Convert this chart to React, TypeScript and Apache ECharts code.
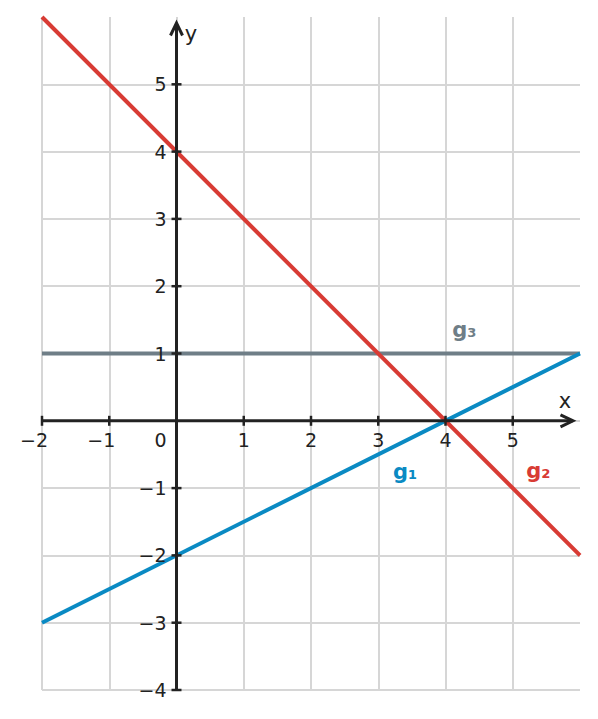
import React, { useEffect, useRef } from "react";
import * as echarts from "echarts";

// Axis range and ticks
const X_MIN = -2;
const X_MAX = 6;
const Y_MIN = -4;
const Y_MAX = 6;
const xTickValues = [-2, -1, 1, 2, 3, 4, 5];
const yTickValues = [-4, -3, -2, -1, 1, 2, 3, 4, 5];

// Line endpoints (x, y)
const g1Points = [[-2, -3], [6, 1]];
const g2Points = [[-2, 6], [6, -2]];
const g3Points = [[-2, 1], [6, 1]];

// Line names and colours
const lineNames = ["g₁", "g₂", "g₃"];
const lineColors = ["#0a8ac3", "#d83b34", "#6f7e87"];
// anchor of each line name (data coords)
const labelAnchors = [[3.4, -0.76], [5.38, -0.74], [4.28, 1.35]];

const FONT = "DejaVu Sans";
const AXIS_COLOR = "#222222";

const fmt = (v: number) => (v < 0 ? "−" + Math.abs(v) : String(v));

function txt(text: string, x: number, y: number, align: string, vAlign: string, fill: string, size: number, weight: string = "normal") {
  return {
    type: "text",
    x,
    y,
    style: {
      text,
      fill,
      fontSize: size,
      fontFamily: FONT,
      fontWeight: weight,
      align,
      verticalAlign: vAlign,
      textAlign: align,
      textVerticalAlign: vAlign,
    },
  };
}

export default function App() {
  const ref = useRef<HTMLDivElement>(null);
  useEffect(() => {
    if (!ref.current) return;
    const chart = echarts.init(ref.current, undefined, { renderer: "svg" });
    const renderAxes = (params: any, api: any) => {
      const o = api.coord([0, 0]);
      const xs = api.coord([X_MIN, 0]);
      const xe = api.coord([X_MAX, 0]);
      const ys = api.coord([0, Y_MIN]);
      const ye = api.coord([0, Y_MAX]);
      const tipX = xe[0] - 7;
      const tipY = ye[1] + 6;
      const ax = { stroke: AXIS_COLOR, lineWidth: 3 };
      const children: any[] = [];
      children.push({ type: "line", shape: { x1: xs[0], y1: o[1], x2: tipX, y2: o[1] }, style: ax });
      children.push({ type: "line", shape: { x1: o[0], y1: ys[1], x2: o[0], y2: tipY }, style: ax });
      children.push({
        type: "polyline",
        shape: { points: [[tipX - 12.5, o[1] - 6], [tipX, o[1]], [tipX - 12.5, o[1] + 6]] },
        style: { stroke: AXIS_COLOR, lineWidth: 3, fill: null },
      });
      children.push({
        type: "polyline",
        shape: { points: [[o[0] - 6, tipY + 12.5], [o[0], tipY], [o[0] + 6, tipY + 12.5]] },
        style: { stroke: AXIS_COLOR, lineWidth: 3, fill: null },
      });
      xTickValues.forEach((v) => {
        const p = api.coord([v, 0]);
        children.push({ type: "line", shape: { x1: p[0], y1: p[1] - 5, x2: p[0], y2: p[1] + 5 }, style: { stroke: AXIS_COLOR, lineWidth: 2.5 } });
        children.push(txt(fmt(v), p[0] + 6, p[1] + 19, "right", "middle", AXIS_COLOR, 19));
      });
      yTickValues.forEach((v) => {
        const p = api.coord([0, v]);
        children.push({ type: "line", shape: { x1: p[0] - 5, y1: p[1], x2: p[0] + 5, y2: p[1] }, style: { stroke: AXIS_COLOR, lineWidth: 2.5 } });
        children.push(txt(fmt(v), p[0] - 10, p[1], "right", "middle", AXIS_COLOR, 19));
      });
      children.push(txt("0", o[0] - 10, o[1] + 19, "right", "middle", AXIS_COLOR, 19));
      children.push(txt("x", xe[0] - 15, o[1] - 20, "center", "middle", AXIS_COLOR, 21));
      children.push(txt("y", o[0] + 14.5, ye[1] + 17, "center", "middle", AXIS_COLOR, 21));
      lineNames.forEach((n, i) => {
        const p = api.coord(labelAnchors[i]);
        children.push(txt(n, p[0], p[1], "center", "middle", lineColors[i], 21, "bold"));
      });
      return { type: "group", children };
    };
    const mkLine = (name: string, pts: number[][], color: string) => ({
      type: "line",
      name,
      data: pts,
      symbol: "none",
      silent: true,
      z: 2,
      lineStyle: { color, width: 4 },
      emphasis: { disabled: true },
    });
    chart.setOption({
      animation: false,
      backgroundColor: "#ffffff",
      grid: { left: 42, right: 18, top: 17, bottom: 29, containLabel: false },
      xAxis: {
        type: "value",
        min: X_MIN,
        max: X_MAX,
        interval: 1,
        axisLine: { show: false },
        axisTick: { show: false },
        axisLabel: { show: false },
        splitLine: { show: true, showMinLine: true, showMaxLine: false, lineStyle: { color: "#d6d6d6", width: 2 } },
      },
      yAxis: {
        type: "value",
        min: Y_MIN,
        max: Y_MAX,
        interval: 1,
        axisLine: { show: false },
        axisTick: { show: false },
        axisLabel: { show: false },
        splitLine: { show: true, showMinLine: true, showMaxLine: false, lineStyle: { color: "#d6d6d6", width: 2 } },
      },
      series: [
        mkLine("g3", g3Points, lineColors[2]),
        mkLine("g1", g1Points, lineColors[0]),
        mkLine("g2", g2Points, lineColors[1]),
        {
          type: "custom",
          silent: true,
          z: 10,
          clip: false,
          data: [[0, 0]],
          renderItem: renderAxes,
        },
      ],
    });
    return () => chart.dispose();
  }, []);
  return (
    <div
      ref={ref}
      style={{ position: "fixed", left: 0, top: 0, width: 598, height: 719, background: "#fff" }}
    />
  );
}
